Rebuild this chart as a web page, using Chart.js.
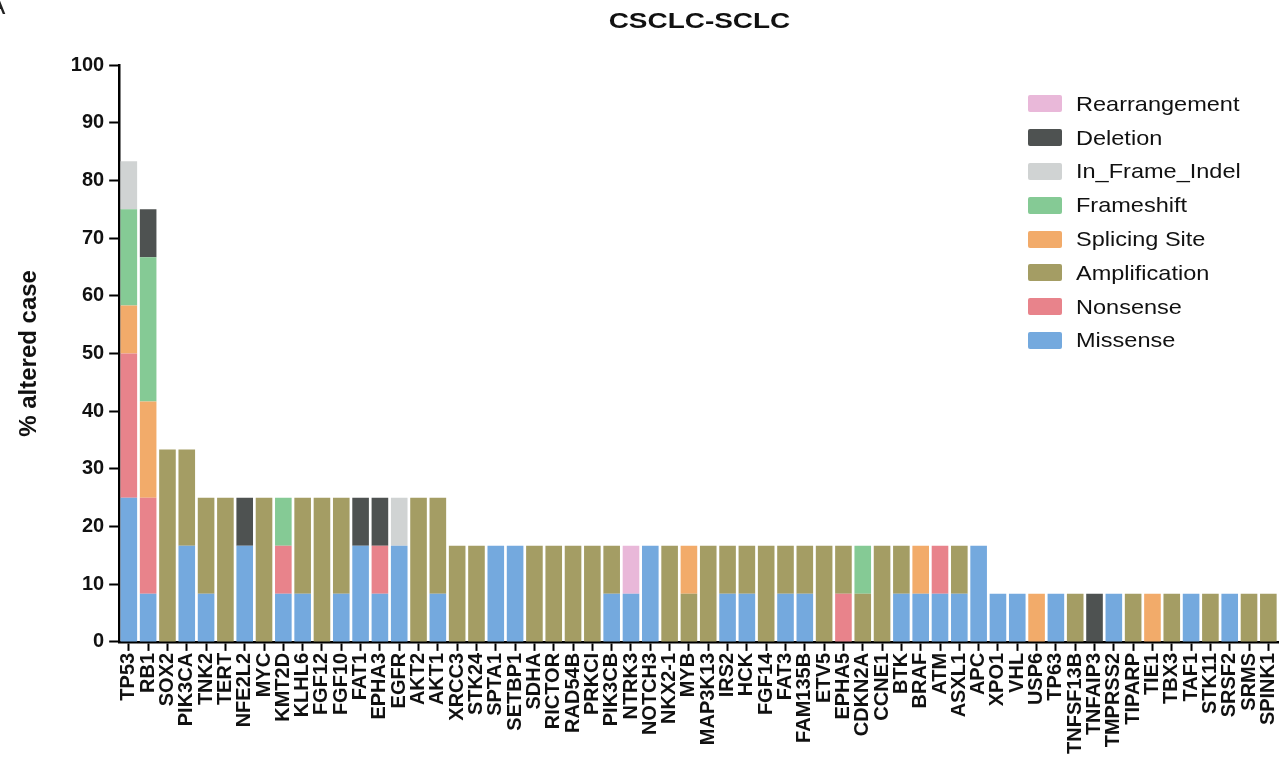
<!DOCTYPE html>
<html>
<head>
<meta charset="utf-8">
<script src="https://cdn.jsdelivr.net/npm/chart.js@4.4.1/dist/chart.umd.min.js"></script>
<style>
  body { margin: 0; background: #fff; }
  #wrap { position: relative; width: 1287px; height: 768px; overflow: hidden; font-family: Arial, "Liberation Sans", sans-serif; }
  #panel { position: absolute; left: -12px; top: -10px; font-size: 26px; color: #222; }
  #title { position: absolute; left: 120px; width: 1158px; top: 8px; text-align: center; font-weight: bold; font-size: 22px; color: #111; }
  #title span { display: inline-block; transform: scaleX(1.27); }
  #legend { position: absolute; left: 1028px; top: 87px; }
  .row { display: flex; align-items: center; height: 33.8px; font-size: 21px; color: #111; }
  .row span.txt { display: inline-block; transform: scaleX(1.12); transform-origin: left center; }
  .box { width: 34px; height: 17px; margin-right: 14px; border-radius: 2px; }
</style>
</head>
<body>
<div id="wrap">
  <canvas id="chart" width="1287" height="768"></canvas>
  <div id="panel">A</div>
  <div id="title"><span>CSCLC-SCLC</span></div>
  <div id="legend"></div>
</div>
<script>
const genes = ["TP53", "RB1", "SOX2", "PIK3CA", "TNK2", "TERT", "NFE2L2", "MYC", "KMT2D", "KLHL6",
  "FGF12", "FGF10", "FAT1", "EPHA3", "EGFR", "AKT2", "AKT1", "XRCC3", "STK24", "SPTA1",
  "SETBP1", "SDHA", "RICTOR", "RAD54B", "PRKCI", "PIK3CB", "NTRK3", "NOTCH3", "NKX2-1", "MYB",
  "MAP3K13", "IRS2", "HCK", "FGF14", "FAT3", "FAM135B", "ETV5", "EPHA5", "CDKN2A", "CCNE1",
  "BTK", "BRAF", "ATM", "ASXL1", "APC", "XPO1", "VHL", "USP6", "TP63", "TNFSF13B",
  "TNFAIP3", "TMPRSS2", "TIPARP", "TIE1", "TBX3", "TAF1", "STK11", "SRSF2", "SRMS", "SPINK1"];

// % altered case per alteration type (bottom of stack first)
const missense = [25, 8.33, 0, 16.67, 8.33, 0, 16.67, 0, 8.33, 8.33,
  0, 8.33, 16.67, 8.33, 16.67, 0, 8.33, 0, 0, 16.67,
  16.67, 0, 0, 0, 0, 8.33, 8.33, 16.67, 0, 0,
  0, 8.33, 8.33, 0, 8.33, 8.33, 0, 0, 0, 0,
  8.33, 8.33, 8.33, 8.33, 16.67, 8.33, 8.33, 0, 8.33, 0,
  0, 8.33, 0, 0, 0, 8.33, 0, 8.33, 0, 0];
const nonsense = [25, 16.67, 0, 0, 0, 0, 0, 0, 8.33, 0,
  0, 0, 0, 8.33, 0, 0, 0, 0, 0, 0,
  0, 0, 0, 0, 0, 0, 0, 0, 0, 0,
  0, 0, 0, 0, 0, 0, 0, 8.33, 0, 0,
  0, 0, 8.33, 0, 0, 0, 0, 0, 0, 0,
  0, 0, 0, 0, 0, 0, 0, 0, 0, 0];
const amplification = [0, 0, 33.33, 16.67, 16.67, 25, 0, 25, 0, 16.67,
  25, 16.67, 0, 0, 0, 25, 16.67, 16.67, 16.67, 0,
  0, 16.67, 16.67, 16.67, 16.67, 8.33, 0, 0, 16.67, 8.33,
  16.67, 8.33, 8.33, 16.67, 8.33, 8.33, 16.67, 8.33, 8.33, 16.67,
  8.33, 0, 0, 8.33, 0, 0, 0, 0, 0, 8.33,
  0, 0, 8.33, 0, 8.33, 0, 8.33, 0, 8.33, 8.33];
const splicing = [8.33, 16.67, 0, 0, 0, 0, 0, 0, 0, 0,
  0, 0, 0, 0, 0, 0, 0, 0, 0, 0,
  0, 0, 0, 0, 0, 0, 0, 0, 0, 8.33,
  0, 0, 0, 0, 0, 0, 0, 0, 0, 0,
  0, 8.33, 0, 0, 0, 0, 0, 8.33, 0, 0,
  0, 0, 0, 8.33, 0, 0, 0, 0, 0, 0];
const frameshift = [16.67, 25, 0, 0, 0, 0, 0, 0, 8.33, 0,
  0, 0, 0, 0, 0, 0, 0, 0, 0, 0,
  0, 0, 0, 0, 0, 0, 0, 0, 0, 0,
  0, 0, 0, 0, 0, 0, 0, 0, 8.33, 0,
  0, 0, 0, 0, 0, 0, 0, 0, 0, 0,
  0, 0, 0, 0, 0, 0, 0, 0, 0, 0];
const inFrameIndel = [8.33, 0, 0, 0, 0, 0, 0, 0, 0, 0,
  0, 0, 0, 0, 8.33, 0, 0, 0, 0, 0,
  0, 0, 0, 0, 0, 0, 0, 0, 0, 0,
  0, 0, 0, 0, 0, 0, 0, 0, 0, 0,
  0, 0, 0, 0, 0, 0, 0, 0, 0, 0,
  0, 0, 0, 0, 0, 0, 0, 0, 0, 0];
const deletion = [0, 8.33, 0, 0, 0, 0, 8.33, 0, 0, 0,
  0, 0, 8.33, 8.33, 0, 0, 0, 0, 0, 0,
  0, 0, 0, 0, 0, 0, 0, 0, 0, 0,
  0, 0, 0, 0, 0, 0, 0, 0, 0, 0,
  0, 0, 0, 0, 0, 0, 0, 0, 0, 0,
  8.33, 0, 0, 0, 0, 0, 0, 0, 0, 0];
const rearrangement = [0, 0, 0, 0, 0, 0, 0, 0, 0, 0,
  0, 0, 0, 0, 0, 0, 0, 0, 0, 0,
  0, 0, 0, 0, 0, 0, 8.33, 0, 0, 0,
  0, 0, 0, 0, 0, 0, 0, 0, 0, 0,
  0, 0, 0, 0, 0, 0, 0, 0, 0, 0,
  0, 0, 0, 0, 0, 0, 0, 0, 0, 0];

const yTicks = [0, 10, 20, 30, 40, 50, 60, 70, 80, 90, 100];

const series = [
  { label: "Missense", data: missense, color: "#74a9de" },
  { label: "Nonsense", data: nonsense, color: "#e8838b" },
  { label: "Amplification", data: amplification, color: "#a49d64" },
  { label: "Splicing Site", data: splicing, color: "#f2ab6a" },
  { label: "Frameshift", data: frameshift, color: "#85ca95" },
  { label: "In_Frame_Indel", data: inFrameIndel, color: "#d0d3d3" },
  { label: "Deletion", data: deletion, color: "#4e5251" },
  { label: "Rearrangement", data: rearrangement, color: "#e9b8d9" },
];

// legend, top entry = top of stack
const legendEl = document.getElementById("legend");
series.slice().reverse().forEach(function (s) {
  const row = document.createElement("div");
  row.className = "row";
  row.innerHTML = '<span class="box" style="background:' + s.color + '"></span><span class="txt">' + s.label + "</span>";
  legendEl.appendChild(row);
});

const axisFont = { family: "Arial, 'Liberation Sans', sans-serif", weight: "bold" };

new Chart(document.getElementById("chart").getContext("2d"), {
  type: "bar",
  data: {
    labels: genes,
    datasets: series.map(function (s) {
      return {
        label: s.label,
        data: s.data,
        backgroundColor: s.color,
        borderWidth: 0,
        barPercentage: 0.86,
        categoryPercentage: 1,
      };
    }),
  },
  options: {
    responsive: false,
    animation: false,
    layout: { padding: { top: 65, right: 9, left: 15, bottom: 12 } },
    plugins: {
      legend: { display: false },
      tooltip: { enabled: false },
    },
    scales: {
      x: {
        stacked: true,
        afterFit: function (scale) {
          // let the axis run to the right edge
          scale.paddingRight = 0;
        },
        border: { color: "#000", width: 2.5 },
        grid: { drawOnChartArea: false, offset: false, tickLength: 9, tickWidth: 2, tickColor: "#000" },
        ticks: {
          autoSkip: false,
          maxRotation: 90,
          minRotation: 90,
          padding: 2,
          color: "#111",
          font: Object.assign({ size: 20 }, axisFont),
        },
      },
      y: {
        stacked: true,
        min: 0,
        max: 100,
        afterBuildTicks: function (axis) {
          axis.ticks = yTicks.map(function (v) { return { value: v }; });
        },
        border: { color: "#000", width: 2.5 },
        grid: { drawOnChartArea: false, tickLength: 10, tickWidth: 2, tickColor: "#000" },
        ticks: {
          padding: 5,
          color: "#111",
          font: Object.assign({ size: 20 }, axisFont),
        },
        title: {
          display: true,
          text: "% altered case",
          color: "#111",
          padding: { top: 0, bottom: 22 },
          font: Object.assign({ size: 24 }, axisFont),
        },
      },
    },
  },
});
</script>
</body>
</html>
